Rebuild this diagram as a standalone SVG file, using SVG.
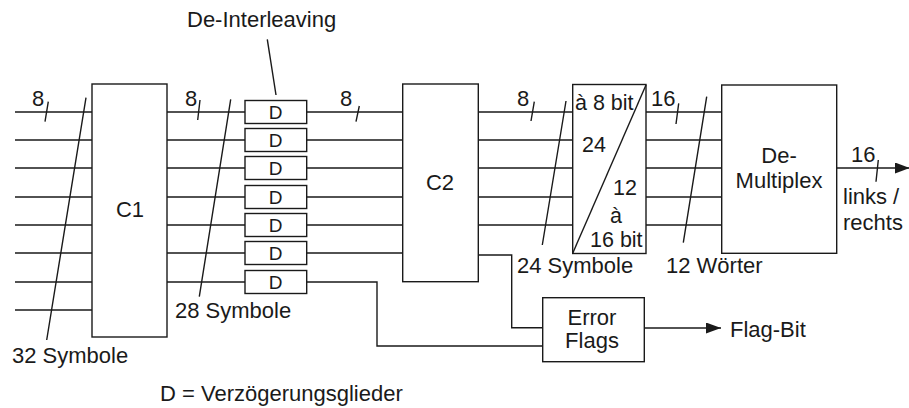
<svg xmlns="http://www.w3.org/2000/svg" width="909" height="408" viewBox="0 0 909 408">
<style>
.s{fill:none;stroke:#1a1a1a;stroke-width:1.4}
.b{fill:#fff;stroke:#1a1a1a;stroke-width:1.4}
text{font-family:"Liberation Sans",Arial,sans-serif;font-size:22px;fill:#1a1a1a}
.d{font-size:19px;text-anchor:middle}
.m{text-anchor:middle}
.c{font-size:21.5px}
</style>
<defs>
<marker id="ah" markerWidth="16" markerHeight="12" refX="15" refY="5.5" orient="auto" markerUnits="userSpaceOnUse">
<path d="M0,0 L15,5.5 L0,11 Z" fill="#1a1a1a"/>
</marker>
</defs>
<rect width="909" height="408" fill="#fff"/>
<g id="connectors" class="s">
<path d="M15 112H92M15 140H92M15 168H92M15 197H92M15 225H92M15 253H92M15 282H92M15 310H92"/>
<path d="M167 112H245M167 140H245M167 168H245M167 197H245M167 225H245M167 253H245M167 282H245"/>
<path d="M306.7 112H402.7M306.7 140H402.7M306.7 168H402.7M306.7 197H402.7M306.7 225H402.7M306.7 253H402.7"/>
<path d="M306.7 282H377V346H542.7"/>
<path d="M478.3 112H572.7M478.3 140H572.7M478.3 168H572.7M478.3 197H572.7M478.3 225H572.7"/>
<path d="M478.3 255H511.7V327.7H542.7"/>
<path d="M646 112H721.7M646 140H721.7M646 168H721.7M646 197H721.7M646 225H721.7"/>
<path d="M836.7 168H910" marker-end="url(#ah)"/>
<path d="M644.3 328H721" marker-end="url(#ah)"/>
<path d="M48.3 101.7L45 121.7M200 100L197.7 120M359.3 106L356 121.7M534.3 101.7L531 121M678.7 103.3L676 124M878.3 160L876 181.7"/>
<path d="M86 97.7L46.7 340M230.7 99.3L199.3 296.7M566 101L542.3 245M706.7 96.7L683.3 242.7"/>
<path d="M267.3 39.3L276 95"/>
</g>
<g id="C1"><rect class="b" x="92" y="84" width="75" height="253"/><text class="m" x="130" y="217">C1</text></g>
<g id="D1"><rect class="b" x="245" y="100.5" width="61.7" height="23"/><text class="d" x="275.5" y="119">D</text></g>
<g id="D2"><rect class="b" x="245" y="128.5" width="61.7" height="23"/><text class="d" x="275.5" y="147">D</text></g>
<g id="D3"><rect class="b" x="245" y="156.5" width="61.7" height="23"/><text class="d" x="275.5" y="175">D</text></g>
<g id="D4"><rect class="b" x="245" y="185.5" width="61.7" height="23"/><text class="d" x="275.5" y="204">D</text></g>
<g id="D5"><rect class="b" x="245" y="213.5" width="61.7" height="23"/><text class="d" x="275.5" y="232">D</text></g>
<g id="D6"><rect class="b" x="245" y="241.5" width="61.7" height="23"/><text class="d" x="275.5" y="260">D</text></g>
<g id="D7"><rect class="b" x="245" y="270.5" width="61.7" height="23"/><text class="d" x="275.5" y="289">D</text></g>
<g id="C2"><rect class="b" x="402.7" y="84" width="75.6" height="197.7"/><text class="m" x="440" y="190">C2</text></g>
<g id="converter"><rect class="b" x="572.7" y="84.5" width="73.3" height="169"/><path class="s" d="M572.7 253.3L646 85"/>
<text class="c" x="575" y="110">à 8 bit</text><text class="c" x="582" y="152">24</text><text class="c" x="613" y="195">12</text><text class="c" x="610" y="223">à</text><text class="c" x="590" y="247">16 bit</text></g>
<g id="demux"><rect class="b" x="721.7" y="85" width="115" height="168.3"/><text class="m" x="779" y="163">De-</text><text class="m" x="779" y="188">Multiplex</text></g>
<g id="errorflags"><rect class="b" x="542.7" y="297.7" width="101.6" height="64"/><text class="m" x="592" y="325">Error</text><text class="m" x="592" y="348">Flags</text></g>
<g id="labels">
<text x="32" y="106">8</text><text x="185" y="106">8</text><text x="340" y="106">8</text><text x="517" y="106">8</text><text x="651" y="106">16</text><text x="851" y="162">16</text>
<text x="187" y="27">De-Interleaving</text>
<text x="12" y="363">32 Symbole</text>
<text x="175" y="318">28 Symbole</text>
<text x="517" y="273">24 Symbole</text>
<text x="666" y="273">12 Wörter</text>
<text x="843" y="204">links /</text>
<text x="843" y="230">rechts</text>
<text x="730" y="337">Flag-Bit</text>
<text x="160" y="401">D = Verzögerungsglieder</text>
</g>
</svg>
